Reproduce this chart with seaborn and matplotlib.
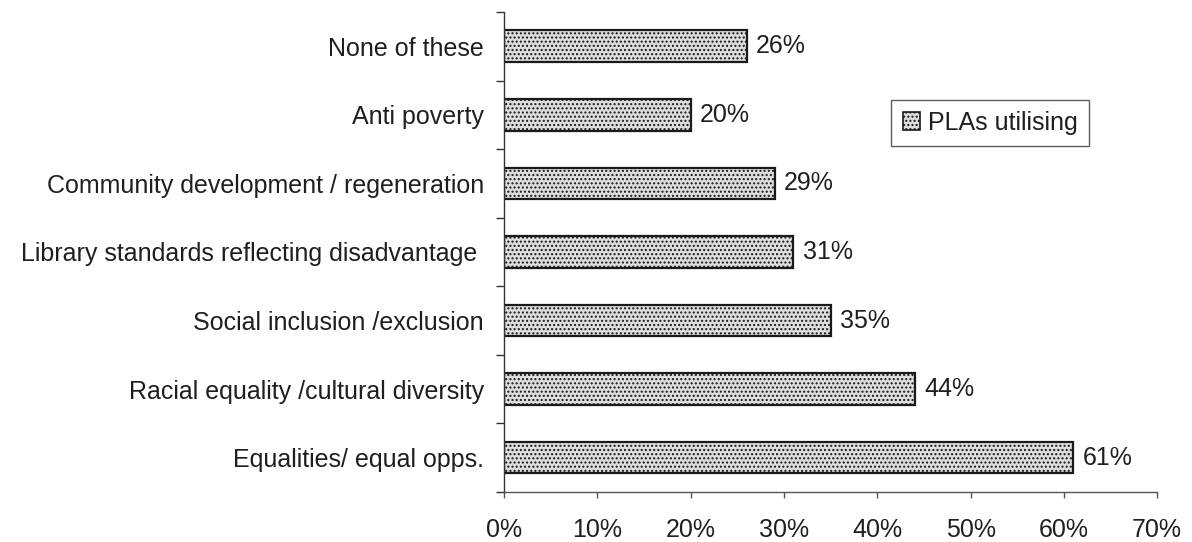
import matplotlib
matplotlib.use("Agg")
import matplotlib.pyplot as plt
from matplotlib.ticker import FixedLocator, FuncFormatter
from matplotlib.patches import Patch
import seaborn as sns
import pandas as pd

categories = [
    "None of these",
    "Anti poverty",
    "Community development / regeneration",
    "Library standards reflecting disadvantage ",
    "Social inclusion /exclusion",
    "Racial equality /cultural diversity",
    "Equalities/ equal opps.",
]
values = [26, 20, 29, 31, 35, 44, 61]
series_name = "PLAs utilising"
x_ticks = [0, 10, 20, 30, 40, 50, 60, 70]

df = pd.DataFrame({"category": categories, "value": values})

sns.set_theme(style="white")
plt.rcParams["font.family"] = ["Liberation Sans", "DejaVu Sans"]
plt.rcParams["hatch.linewidth"] = 1.0
plt.rcParams["hatch.color"] = "#8a8a8a"

FS = 18
TXT = "#1f1f1f"

fig = plt.figure(figsize=(11.92, 5.42), dpi=100)
ax = fig.add_axes([0.4228, 0.0923, 0.548, 0.8856])

sns.barplot(data=df, x="value", y="category", orient="h", order=categories,
            color="#dedede", width=0.46, edgecolor="#1a1a1a", linewidth=1.6,
            saturation=1, ax=ax)

for bar in ax.patches:
    bar.set_hatch("....")

for bar, v in zip(ax.patches, values):
    ax.text(bar.get_width() + 1.0, bar.get_y() + bar.get_height() / 2,
            f"{v}%", va="center", ha="left", fontsize=FS, color=TXT)

ax.set_xlim(0, 70)
ax.set_ylim(len(categories) - 0.5, -0.5)
ax.xaxis.set_major_locator(FixedLocator(x_ticks))
ax.xaxis.set_major_formatter(FuncFormatter(lambda v, p: f"{v:.0f}%"))

# category ticks sit between bars
ax.yaxis.set_minor_locator(FixedLocator([i - 0.5 for i in range(len(categories) + 1)]))
ax.tick_params(axis="y", which="major", length=0, pad=14.5, labelsize=FS, labelcolor=TXT)
ax.tick_params(axis="y", which="minor", left=True, length=6, width=1.0, color="#333333")
ax.tick_params(axis="x", which="major", bottom=True, length=4.5, width=1.0, color="#555555",
               pad=14, labelsize=FS, labelcolor=TXT)

ax.set_xlabel("")
ax.set_ylabel("")
for side in ["top", "right"]:
    ax.spines[side].set_visible(False)
ax.spines["left"].set_color("#333333")
ax.spines["left"].set_linewidth(1.0)
ax.spines["bottom"].set_color("#555555")
ax.spines["bottom"].set_linewidth(1.0)

handle = Patch(facecolor="#dedede", edgecolor="#1a1a1a", hatch="....", linewidth=1.2)
leg = ax.legend([handle], [series_name], loc="center", bbox_to_anchor=(0.744, 0.769),
                frameon=True, fancybox=False, fontsize=FS, handlelength=0.7,
                handleheight=0.7, handletextpad=0.3, borderpad=0.45)
for t in leg.get_texts():
    t.set_color(TXT)
leg.get_frame().set_edgecolor("#333333")
leg.get_frame().set_linewidth(1.0)

fig.savefig("out.png", dpi=100)
